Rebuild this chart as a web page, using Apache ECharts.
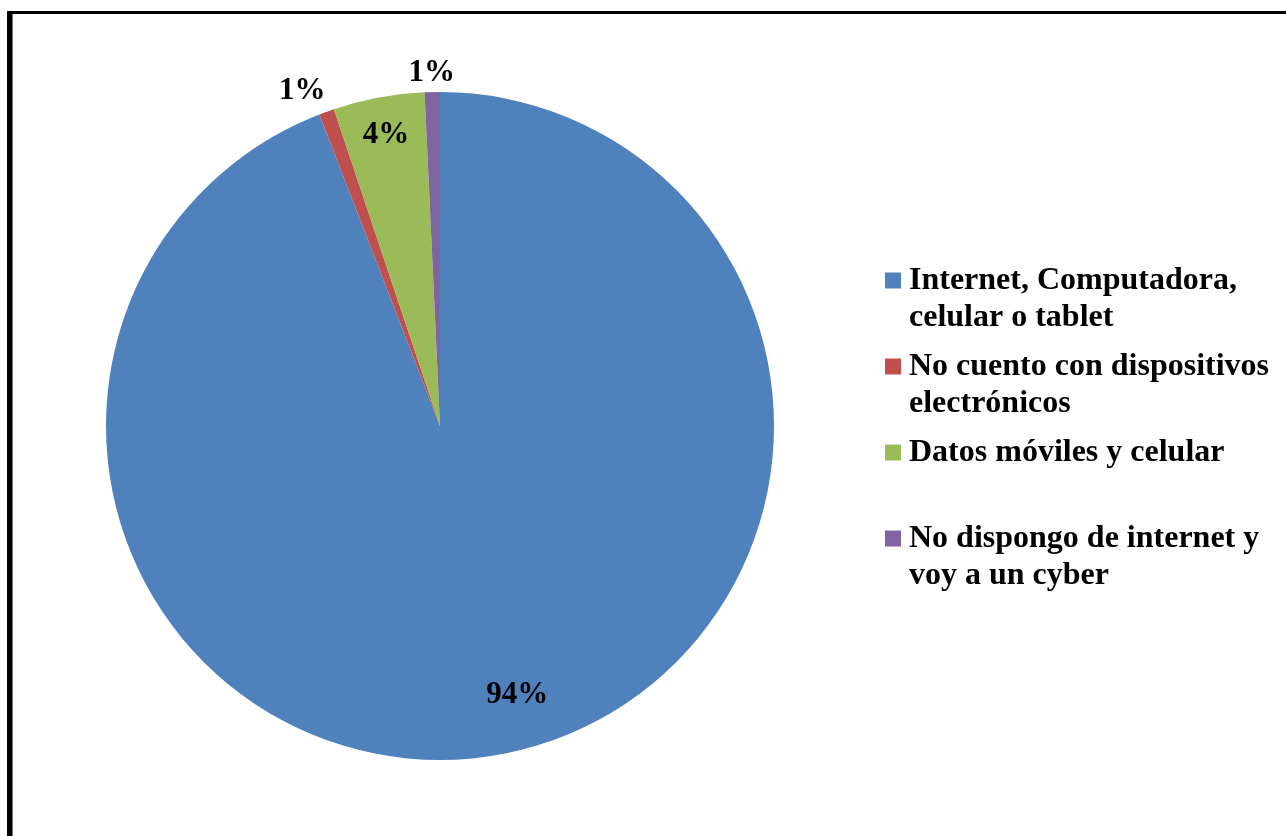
<!DOCTYPE html>
<html>
<head>
<meta charset="utf-8">
<script src="https://cdn.jsdelivr.net/npm/echarts@6/dist/echarts.min.js"></script>
<style>
  html, body { margin: 0; padding: 0; background: #ffffff; }
  #chart { width: 1286px; height: 836px; }
</style>
</head>
<body>
<div id="chart"></div>
<script>
// Categories and respondent counts
const categories = [
  'Internet, Computadora, celular o tablet',
  'No cuento con dispositivos electrónicos',
  'Datos móviles y celular',
  'No dispongo de internet y voy a un cyber'
];
const counts = [128, 1, 6, 1];
const legendText = [
  'Internet, Computadora,\ncelular o tablet',
  'No cuento con dispositivos\nelectrónicos',
  'Datos móviles y celular\n ',
  'No dispongo de internet y\nvoy a un cyber'
];
const colors = ['#4F81BD', '#C0504D', '#9BBB59', '#8064A2'];

// Pie geometry
const CX = 440, CY = 426, R = 334;
// Label placement: distance as a share of the radius, and angular nudge in degrees
const labelDist = [0.83, 1.093, 0.895, 1.066];
const labelShift = [-5.6, -2.3, 0.2, 0];
const labelDrop = 3; // optical baseline correction for the serif digits

const total = counts.reduce((a, b) => a + b, 0);
const font = '"Liberation Serif", "Times New Roman", serif';

const chart = echarts.init(document.getElementById('chart'), null, { renderer: 'canvas' });

chart.setOption({
  backgroundColor: '#ffffff',
  animation: false,
  color: colors,
  graphic: [
    { type: 'rect', shape: { x: 7, y: 11, width: 5.5, height: 900 }, style: { fill: '#000' } },
    { type: 'rect', shape: { x: 7, y: 11, width: 1400, height: 3 }, style: { fill: '#000' } }
  ],
  legend: {
    orient: 'vertical',
    left: 885,
    top: 262,
    padding: 0,
    itemWidth: 19,
    itemHeight: 74,
    itemGap: 12,
    icon: 'path://M0,0M19,74M0,10.5h16v16h-16z',
    data: categories,
    formatter: function (name) {
      return legendText[categories.indexOf(name)];
    },
    textStyle: {
      fontFamily: font,
      fontWeight: 'bold',
      fontSize: 32,
      lineHeight: 37,
      color: '#000'
    },
    selectedMode: false
  },
  series: [{
    type: 'pie',
    center: [CX, CY],
    radius: R,
    startAngle: 90,
    clockwise: true,
    avoidLabelOverlap: false,
    itemStyle: { borderWidth: 0 },
    emphasis: { disabled: true },
    label: {
      show: true,
      position: 'inside',
      formatter: function (p) { return Math.round(p.percent) + '%'; },
      fontFamily: font,
      fontWeight: 'bold',
      fontSize: 31,
      color: '#000'
    },
    labelLine: { show: false },
    labelLayout: function (p) {
      const i = p.dataIndex;
      let start = 0;
      for (let j = 0; j < i; j++) start += counts[j];
      const deg = (start + counts[i] / 2) / total * 360 + labelShift[i];
      const rad = deg * Math.PI / 180;
      const d = labelDist[i] * R;
      return {
        x: CX + d * Math.sin(rad),
        y: CY - d * Math.cos(rad) + labelDrop,
        align: 'center',
        verticalAlign: 'middle'
      };
    },
    data: categories.map((name, i) => ({ name: name, value: counts[i] }))
  }]
});
</script>
</body>
</html>
